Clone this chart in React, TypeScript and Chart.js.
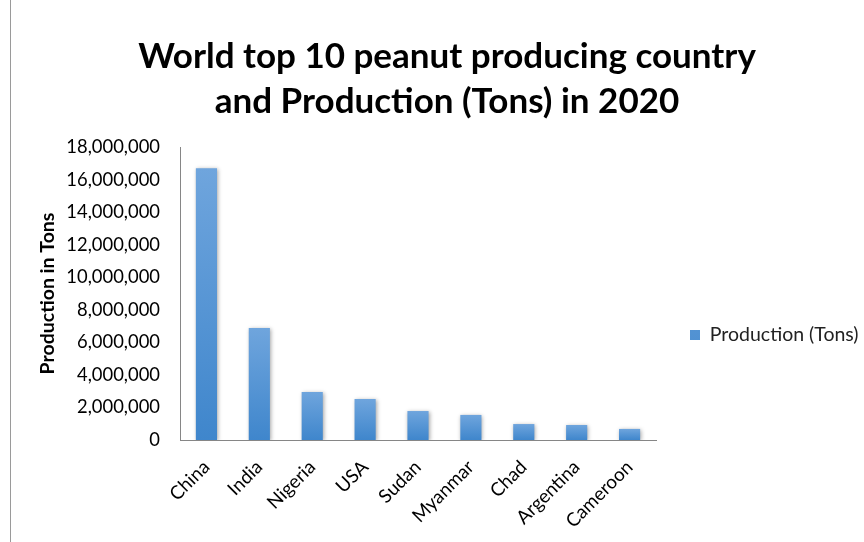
import React, { useEffect, useRef } from "react";
import { Chart, registerables } from "chart.js";

Chart.register(...registerables);

const titleLines = ["World top 10 peanut producing country", "and Production (Tons) in 2020"];
const categories = ["China", "India", "Nigeria", "USA", "Sudan", "Myanmar", "Chad", "Argentina", "Cameroon"];
const production = [16700000, 6880000, 2950000, 2520000, 1780000, 1540000, 980000, 920000, 680000];
const seriesName = "Production (Tons)";
const yAxisTitle = "Production in Tons";
const yMin = 0;
const yMax = 18000000;
const yStep = 2000000;

const FONT = "Lato, 'Open Sans', sans-serif";

export default function App() {
  const ref = useRef<HTMLCanvasElement | null>(null);

  useEffect(() => {
    if (!ref.current) return;
    const shadowPlugin = {
      id: "barShadow",
      beforeDatasetsDraw(chart: any) {
        const c = chart.ctx;
        c.save();
        c.shadowColor = "rgba(0,0,0,0.35)";
        c.shadowBlur = 4;
        c.shadowOffsetX = 1;
        c.shadowOffsetY = 1;
      },
      afterDatasetsDraw(chart: any) {
        chart.ctx.restore();
      },
    };
    const chart = new Chart(ref.current, {
      type: "bar",
      data: {
        labels: categories,
        datasets: [
          {
            label: seriesName,
            data: production,
            backgroundColor: (ctx: any) => {
              const chart = ctx.chart;
              const area = chart.chartArea;
              if (!area || ctx.type !== "data") return "#5b9bd5";
              const yScale = chart.scales.y;
              const top = yScale.getPixelForValue(ctx.raw);
              const bottom = yScale.getPixelForValue(0);
              if (!isFinite(top) || bottom - top < 1) return "#5b9bd5";
              const g = chart.ctx.createLinearGradient(0, top, 0, bottom);
              g.addColorStop(0, "#6fa5dd");
              g.addColorStop(1, "#3f86cc");
              return g;
            },
            borderWidth: 0,
            barPercentage: 0.8,
            categoryPercentage: 0.5,
          },
        ],
      },
      options: {
        responsive: false,
        animation: false,
        layout: { padding: { left: 30, right: 0, top: 0, bottom: 0 } },
        plugins: {
          title: {
            display: true,
            text: titleLines,
            color: "#000",
            font: { family: FONT, size: 35, weight: "bold", lineHeight: 1.286 },
            padding: { top: 34, bottom: 23 },
          },
          legend: {
            position: "right",
            maxWidth: 208,
            title: {
              display: true,
              text: " ",
              font: { family: FONT, size: 10, lineHeight: 1.2 },
              padding: { top: 0, bottom: 116 },
            },
            labels: {
              color: "#222",
              font: { family: FONT, size: 19.5 },
              boxWidth: 10,
              boxHeight: 10,
              padding: 34,
            },
          },
          tooltip: { enabled: false },
        },
        scales: {
          x: {
            grid: { display: false, drawTicks: false },
            border: { display: true, color: "#868686", width: 1 },
            ticks: {
              color: "#000",
              font: { family: FONT, size: 18.8 },
              maxRotation: 45,
              minRotation: 45,
              padding: 16,
            },
            afterFit: (scale: any) => {
              scale.height = 102;
            },
          },
          y: {
            min: yMin,
            max: yMax,
            grid: { display: false, drawTicks: false },
            border: { display: true, color: "#868686", width: 1 },
            ticks: {
              stepSize: yStep,
              color: "#000",
              font: { family: FONT, size: 18.4 },
              padding: 20,
              callback: (v: any) => Number(v).toLocaleString("en-US"),
            },
            title: {
              display: true,
              text: yAxisTitle,
              color: "#000",
              font: { family: FONT, size: 19.5, weight: "bold" },
              padding: { top: 6, bottom: 0 },
            },
            afterFit: (scale: any) => {
              scale.width = 150;
            },
          },
        },
      },
      plugins: [shadowPlugin],
    } as any);
    return () => chart.destroy();
  }, []);

  return (
    <div style={{ position: "fixed", left: 0, top: 0, width: 864, height: 542, background: "#fff" }}>
      <div style={{ position: "absolute", left: 10, top: 0, width: 1, height: 542, background: "#9a9a9a" }} />
      <canvas ref={ref} width={864} height={542} style={{ position: "absolute", left: 0, top: 0 }} />
    </div>
  );
}
